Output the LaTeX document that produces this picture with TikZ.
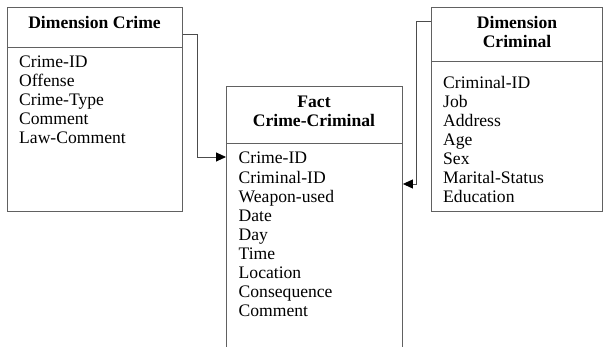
\documentclass[tikz,border=0pt]{standalone}
\usepackage{fontspec}
\setmainfont{Liberation Serif}
\usetikzlibrary{arrows.meta}
\tikzset{
  box/.style={draw=black!62, line width=0.9pt, inner sep=0pt, anchor=north west},
  divider/.style={draw=black!62, line width=0.9pt},
  item/.style={inner sep=0pt, anchor=base west, font=\fontsize{17.6}{19}\selectfont},
  title/.style={inner sep=0pt, anchor=base, font=\fontsize{17.6}{19}\selectfont\bfseries},
  link/.style={draw=black!70, line width=0.9pt, -{Triangle[length=10pt,width=9pt,color=black]}},
}
\begin{document}
\begin{tikzpicture}[x=1pt,y=-1pt]
\useasboundingbox (0,0) rectangle (603,347);
\clip (0,0) rectangle (603,347);
% boxes
\node[box, minimum width=175pt, minimum height=204pt] (crime) at (7,7) {};
\node[box, minimum width=176pt, minimum height=280pt] (fact) at (226,86) {};
\node[box, minimum width=171pt, minimum height=204pt] (criminal) at (431,7) {};
% header dividers
\coordinate (dc) at (0,47.5);
\coordinate (df) at (0,143.3);
\coordinate (dr) at (0,61);
\draw[divider] (crime.west |- dc) -- (crime.east |- dc);
\draw[divider] (fact.west |- df) -- (fact.east |- df);
\draw[divider] (criminal.west |- dr) -- (criminal.east |- dr);
% titles
\node[title] (tcrime) at (94.5,28.5) {Dimension Crime};
\node[title] (tfact1) at (314,107.7) {Fact};
\node[title] (tfact2) at (314,126.7) {Crime-Criminal};
\node[title] (tcrim1) at (517,28.5) {Dimension};
\node[title] (tcrim2) at (517,48) {Criminal};
% items
\foreach \t [count=\i] in {Crime-ID, Offense, Crime-Type, Comment, Law-Comment}
  \node[item] (lc\i) at (19,{67.5+19*(\i-1)}) {\t};
\foreach \t [count=\i] in {Crime-ID, Criminal-ID, Weapon-used, Date, Day, Time, Location, Consequence, Comment}
  \node[item] (lf\i) at (238.5,{164+19.05*(\i-1)}) {\t};
\foreach \t [count=\i] in {Criminal-ID, Job, Address, Age, Sex, Marital-Status, Education}
  \node[item] (lr\i) at (443,{88.5+19*(\i-1)}) {\t};
% connectors
\coordinate (a1) at (197,34);
\coordinate (a2) at (197,157);
\draw[link] (crime.east |- a1) -- (a1) -- (a2) -- (fact.west |- a2);
\coordinate (b1) at (416,21);
\coordinate (b2) at (416,184);
\draw[link] (criminal.west |- b1) -- (b1) -- (b2) -- (fact.east |- b2);
\end{tikzpicture}
\end{document}
